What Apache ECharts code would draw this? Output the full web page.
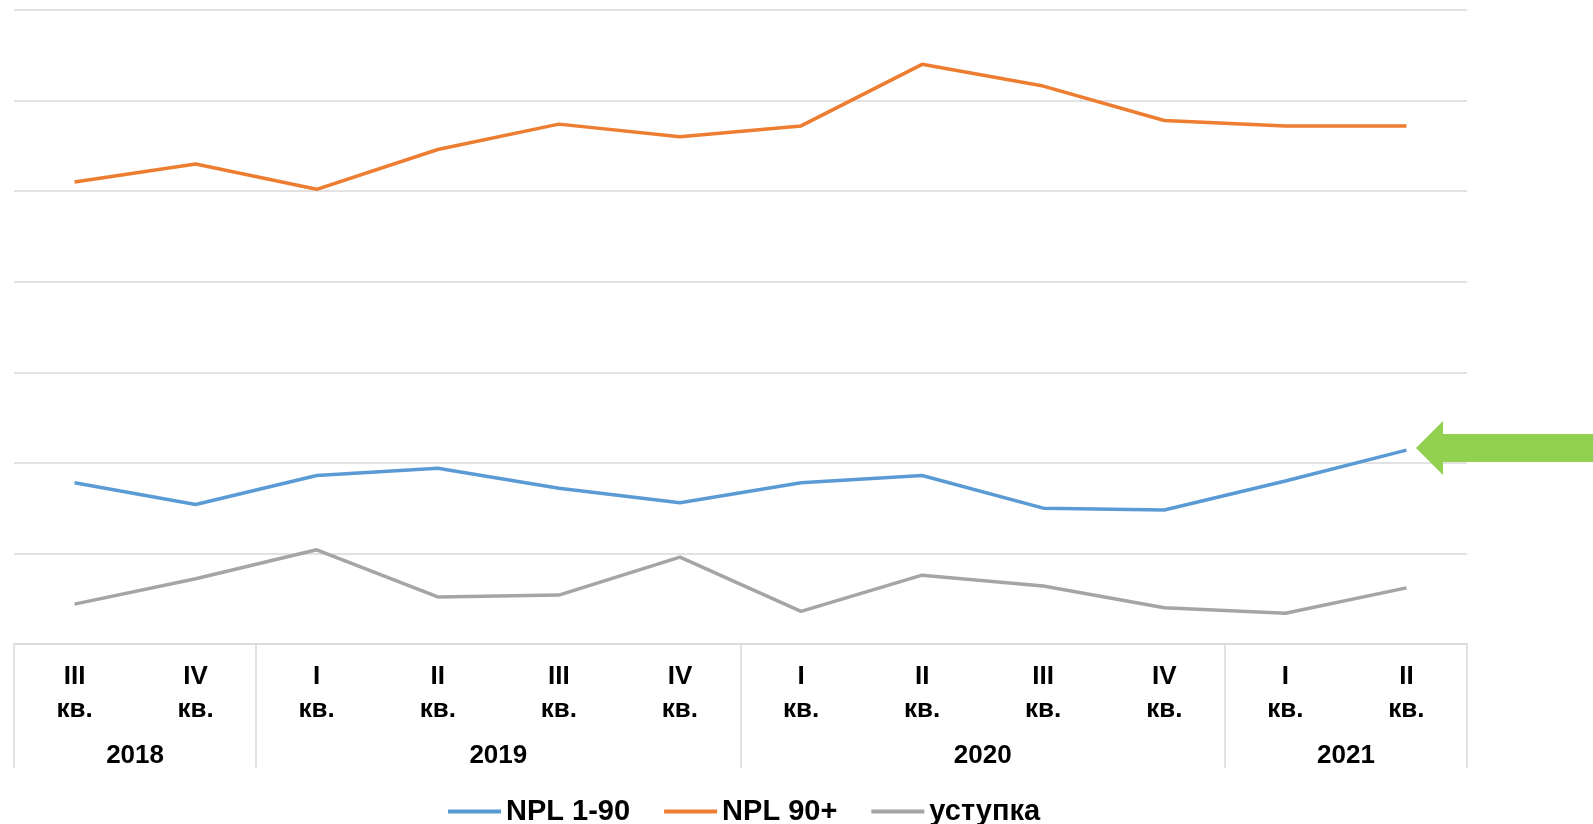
<!DOCTYPE html>
<html>
<head>
<meta charset="utf-8">
<script src="https://cdn.jsdelivr.net/npm/echarts@6/dist/echarts.min.js"></script>
<style>
  html, body { margin: 0; padding: 0; background: #fff; }
  #chart { width: 1593px; height: 824px; }
</style>
</head>
<body>
<div id="chart"></div>
<script>
    var quarters = ['III', 'IV', 'I', 'II', 'III', 'IV', 'I', 'II', 'III', 'IV', 'I', 'II'];
    var years = ['2018', '2019', '2020', '2021'];
    var yearSizes = [2, 4, 4, 2];

    var npl190 = [8.9, 7.7, 9.3, 9.7, 8.6, 7.8, 8.9, 9.3, 7.5, 7.4, 9.0, 10.7];
    var npl90 = [25.5, 26.5, 25.1, 27.3, 28.7, 28.0, 28.6, 32.0, 30.8, 28.9, 28.6, 28.6];
    var ustupka = [2.2, 3.6, 5.2, 2.6, 2.7, 4.8, 1.8, 3.8, 3.2, 2.0, 1.7, 3.1];

    // границы групп и центры подписей лет
    var bounds = [0];
    var centers = [];
    yearSizes.forEach(function (n) {
        var start = bounds[bounds.length - 1];
        centers.push(start + n / 2);
        bounds.push(start + n);
    });

    var font = '"Liberation Sans", Arial, sans-serif';
    var chart = echarts.init(document.getElementById('chart'));

    var option = {
        animation: false,
        grid: { left: 14, right: 126, top: 10, bottom: 180 },
        legend: {
            left: 443,
            top: 792,
            icon: 'rect',
            itemWidth: 53,
            itemHeight: 4,
            itemGap: 34,
            textStyle: { fontFamily: font, fontWeight: 'bold', fontSize: 29, color: '#000' },
            data: ['NPL 1-90', 'NPL 90+', 'уступка']
        },
        xAxis: [
            {
                type: 'category',
                data: quarters,
                boundaryGap: true,
                axisLine: { lineStyle: { color: '#d9d9d9', width: 1.5 } },
                axisTick: { show: false },
                axisLabel: {
                    margin: 16,
                    color: '#000',
                    fontFamily: font,
                    fontWeight: 'bold',
                    fontSize: 26,
                    lineHeight: 33,
                    formatter: function (v) { return v + '\nкв.'; }
                }
            },
            {
                type: 'value',
                min: 0,
                max: quarters.length,
                position: 'bottom',
                axisLine: { show: false },
                splitLine: { show: false },
                axisTick: {
                    show: true,
                    customValues: bounds,
                    length: 124,
                    lineStyle: { color: '#d9d9d9', width: 1.5 }
                },
                axisLabel: {
                    customValues: centers,
                    margin: 97,
                    color: '#000',
                    fontFamily: font,
                    fontWeight: 'bold',
                    fontSize: 26,
                    lineHeight: 30,
                    formatter: function (v) { return years[centers.indexOf(v)]; }
                }
            }
        ],
        yAxis: {
            type: 'value',
            min: 0,
            max: 35,
            interval: 5,
            axisLabel: { show: false },
            axisLine: { show: false },
            axisTick: { show: false },
            splitLine: { lineStyle: { color: '#d9d9d9', width: 1.5 } }
        },
        series: [
            {
                name: 'NPL 1-90',
                type: 'line',
                data: npl190,
                symbol: 'none',
                color: '#5b9bd5',
                lineStyle: { width: 3.5 }
            },
            {
                name: 'NPL 90+',
                type: 'line',
                data: npl90,
                symbol: 'none',
                color: '#ed7d31',
                lineStyle: { width: 3.5 }
            },
            {
                name: 'уступка',
                type: 'line',
                data: ustupka,
                symbol: 'none',
                color: '#a5a5a5',
                lineStyle: { width: 3.5 }
            }
        ],
        graphic: [
            {
                type: 'polygon',
                z: 100,
                shape: {
                    points: [[1416, 448], [1443, 421], [1443, 434], [1593, 434],
                             [1593, 462], [1443, 462], [1443, 475]]
                },
                style: { fill: '#92d050' }
            }
        ]
    };

    chart.setOption(option);
</script>
</body>
</html>
